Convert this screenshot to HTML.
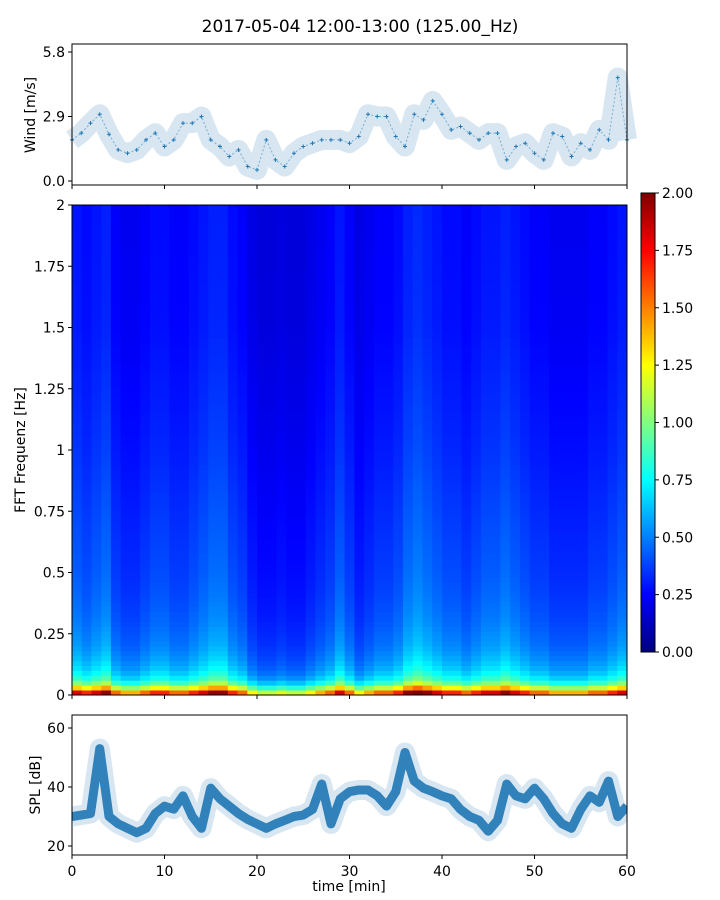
<!DOCTYPE html>
<html><head><meta charset="utf-8"><style>
body{margin:0;background:#fff;}
svg{display:block;font-family:"DejaVu Sans","Liberation Sans",sans-serif;}
</style></head><body>
<svg id="fig" width="720" height="900" viewBox="0 0 720 900">
<text x="360" y="32" text-anchor="middle" font-size="17">2017-05-04 12:00-13:00 (125.00_Hz)</text>
<g id="topPanel"></g>
<g id="midPanel"></g>
<g id="cbarPanel"></g>
<g id="botPanel"></g>
</svg>
<script>
// ---- data ----
const minutes = [0,1,2,3,4,5,6,7,8,9,10,11,12,13,14,15,16,17,18,19,20,21,22,23,24,25,26,27,28,29,30,31,32,33,34,35,36,37,38,39,40,41,42,43,44,45,46,47,48,49,50,51,52,53,54,55,56,57,58,59,60];
const windValues = [1.85,2.15,2.6,3.0,2.1,1.4,1.25,1.4,1.85,2.15,1.55,1.85,2.6,2.6,2.9,1.85,1.55,1.1,1.4,0.65,0.5,1.85,0.95,0.65,1.25,1.55,1.7,1.85,1.85,1.85,1.7,2.0,3.0,2.9,2.9,2.0,1.55,3.0,2.75,3.6,3.0,2.3,2.45,2.15,1.85,2.15,2.15,0.95,1.55,1.7,1.25,0.95,2.15,2.0,1.1,1.7,1.4,2.3,1.85,4.65,1.85];
const splValues = [30,30.5,31,53,30,27.5,26,24.5,26,31,33.5,32.5,37,30,26,39.6,36,33.5,31,29,27.5,26,27.5,28.7,30,30.5,32.4,41,27.5,36,38.4,39,39,37,33.5,38.4,51.7,42,39.6,38.4,37,36,32.4,30,28.7,25,28.7,41,37,36,39.6,36,31,27.5,26,32.4,37,34.8,42,30,33.5];
const colLevels = [1.3,1.2,1.3,1.4,1.1,1.0,1.0,1.1,1.2,1.2,1.1,1.1,1.2,1.3,1.4,1.4,1.2,1.1,0.9,0.8,0.8,0.85,0.8,0.8,0.9,1.0,1.1,1.3,1.1,0.9,1.0,1.1,1.1,1.2,1.4,1.5,1.4,1.3,1.2,1.2,1.1,1.2,1.3,1.3,1.4,1.3,1.2,1.1,1.1,1.0,1.0,1.0,1.0,1.1,1.1,1.2,1.3];
const freqPoints = [0,0.02,0.04,0.07,0.1,0.15,0.2,0.3,0.4,0.5,0.75,1,1.5,2];
const freqProfile = [1.6,1.2,0.85,0.65,0.55,0.48,0.43,0.38,0.35,0.33,0.3,0.27,0.23,0.22];
const windTicks = [0.0,2.9,5.8];
const freqTicks = [0,0.25,0.5,0.75,1,1.25,1.5,1.75,2];
const freqTickLabels = ["0","0.25","0.5","0.75","1","1.25","1.5","1.75","2"];
const splTicks = [20,40,60];
const timeTicks = [0,10,20,30,40,50,60];
const cbarTicks = [0,0.25,0.5,0.75,1,1.25,1.5,1.75,2];

const NS="http://www.w3.org/2000/svg";
function mk(tag,attrs,parent){const e=document.createElementNS(NS,tag);for(const k in attrs)e.setAttribute(k,attrs[k]);parent.appendChild(e);return e;}
const X0=72,X1=627;
const xs=t=>X0+(t/60)*(X1-X0);
const yWind=v=>181-(v/5.8)*129;
const yFreq=f=>695-(f/2)*490;
const ySpl=v=>846-(v-20)*(118/40);
const yCb=v=>652-(v/2)*459;
function jet(x){x=Math.max(0,Math.min(1,x));const c=v=>Math.round(255*Math.max(0,Math.min(1,v)));return `rgb(${c(1.5-Math.abs(4*x-3))},${c(1.5-Math.abs(4*x-2))},${c(1.5-Math.abs(4*x-1))})`;}
function xTicks(g,yb,labels){
  timeTicks.forEach(t=>{const l=mk('line',{x1:xs(t),x2:xs(t),y1:yb,y2:yb+4,stroke:'#000','stroke-width':1},g);
    
    if(labels){const tx=mk('text',{x:xs(t),y:yb+21,'text-anchor':'middle','font-size':14},g);tx.textContent=t;
      }});
}
function yTick(g,y,label){
  const l=mk('line',{x1:X0-4,x2:X0,y1:y,y2:y,stroke:'#000'},g);
  
  const t=mk('text',{x:X0-7,y:y+5,'text-anchor':'end','font-size':14},g);t.textContent=label;
  
}
function ylabel(g,x,y,txt,name){const t=mk('text',{x:x,y:y,'text-anchor':'middle','font-size':14,transform:`rotate(-90 ${x} ${y})`},g);t.textContent=txt;
  }

// ---- wind panel ----
const gTop=document.getElementById('topPanel');
const wpts=minutes.map((m,i)=>xs(m)+','+yWind(windValues[i])).join(' ');
const wband=mk('polyline',{points:wpts,fill:'none',stroke:'#1f77b4','stroke-opacity':0.18,'stroke-width':20,'stroke-linejoin':'round'},gTop);

const wline=mk('polyline',{points:wpts,fill:'none',stroke:'#1f77b4','stroke-opacity':0.5,'stroke-width':1,'stroke-dasharray':'2 2'},gTop);

minutes.forEach((m,i)=>{const x=xs(m),y=yWind(windValues[i]);
  const p=mk('path',{d:`M${x-2},${y}h4M${x},${y-2}v4`,stroke:'#1f77b4','stroke-width':1},gTop);
  });
const tf=mk('rect',{x:X0,y:44,width:X1-X0,height:141,fill:'none',stroke:'#000','stroke-width':1},gTop);

windTicks.forEach(v=>yTick(gTop,yWind(v),v.toFixed(1)));
xTicks(gTop,185,false);
ylabel(gTop,35,115,'Wind [m/s]','wind-y-axis-title');

// ---- spectrogram ----
const gMid=document.getElementById('midPanel');
const nCols=colLevels.length, df=0.02, nRows=Math.round(2/df);
function profileAt(f){for(let i=0;i<freqPoints.length-1;i++){if(f<=freqPoints[i+1]){const a=(f-freqPoints[i])/(freqPoints[i+1]-freqPoints[i]);return freqProfile[i]+(freqProfile[i+1]-freqProfile[i])*a;}}return freqProfile[freqProfile.length-1];}
for(let c=0;c<nCols;c++){
  const xa=xs(c*60/nCols),xb=xs((c+1)*60/nCols);
  for(let r=0;r<nRows;r++){
    const f=(r+0.5)*df;
    const v=profileAt(f)*colLevels[c];
    const rc=mk('rect',{x:xa,y:yFreq((r+1)*df),width:xb-xa+0.4,height:yFreq(r*df)-yFreq((r+1)*df)+0.4,fill:jet(v/2)},gMid);
    
  }
}
const mf=mk('rect',{x:X0,y:205,width:X1-X0,height:490,fill:'none',stroke:'#000'},gMid);

freqTicks.forEach((v,i)=>yTick(gMid,yFreq(v),freqTickLabels[i]));
xTicks(gMid,695,false);
ylabel(gMid,25,450,'FFT Frequenz [Hz]','frequency-y-axis-title');

// ---- colorbar ----
const gCb=document.getElementById('cbarPanel');
const defs=mk('defs',{},gCb);
const lg=mk('linearGradient',{id:'jetg',x1:0,y1:1,x2:0,y2:0},defs);
for(let i=0;i<=16;i++)mk('stop',{offset:i/16,'stop-color':jet(i/16)},lg);
const cr=mk('rect',{x:641,y:193,width:14,height:459,fill:'url(#jetg)',stroke:'#000'},gCb);

cbarTicks.forEach(v=>{const y=yCb(v);
  const l=mk('line',{x1:655,x2:659,y1:y,y2:y,stroke:'#000'},gCb);
  
  const t=mk('text',{x:662,y:y+5,'font-size':14},gCb);t.textContent=v.toFixed(2);
  });

// ---- SPL panel ----
const gBot=document.getElementById('botPanel');
const spts=minutes.map((m,i)=>xs(m)+','+ySpl(splValues[i])).join(' ');
const cpDefs=mk('defs',{},gBot);
const cp=mk('clipPath',{id:'botclip'},cpDefs);mk('rect',{x:X0,y:715,width:X1-X0,height:140},cp);
const sb1=mk('polyline',{points:spts,fill:'none',stroke:'#1f77b4','stroke-opacity':0.18,'stroke-width':20,'stroke-linejoin':'round','clip-path':'url(#botclip)'},gBot);

const sb2=mk('polyline',{points:spts,fill:'none',stroke:'#1f77b4','stroke-opacity':0.9,'stroke-width':9,'stroke-linejoin':'round','clip-path':'url(#botclip)'},gBot);

const bf=mk('rect',{x:X0,y:715,width:X1-X0,height:140,fill:'none',stroke:'#000'},gBot);

splTicks.forEach(v=>yTick(gBot,ySpl(v),String(v)));
xTicks(gBot,855,true);
ylabel(gBot,40,785,'SPL [dB]','spl-y-axis-title');
const xt=mk('text',{x:349,y:891,'text-anchor':'middle','font-size':14},gBot);xt.textContent='time [min]';

</script>
</body></html>
